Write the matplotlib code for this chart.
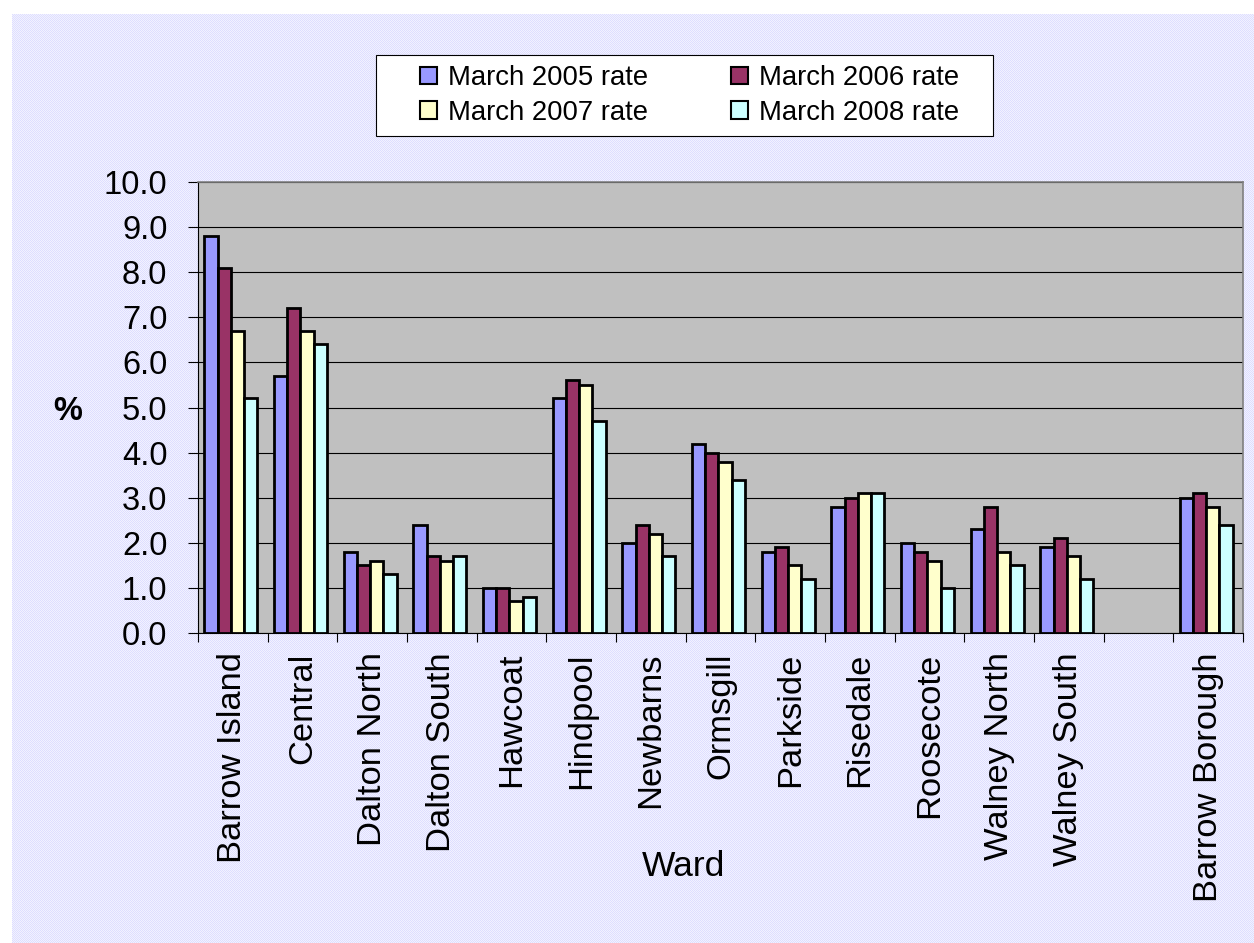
import numpy as np
import matplotlib
matplotlib.use("Agg")
import matplotlib.pyplot as plt
from matplotlib.patches import Patch, Rectangle

plt.rcParams["font.family"] = ["Liberation Sans", "DejaVu Sans"]

# Claimant rates by ward (%), March of each year
wards = ["Barrow Island", "Central", "Dalton North", "Dalton South", "Hawcoat",
         "Hindpool", "Newbarns", "Ormsgill", "Parkside", "Risedale",
         "Roosecote", "Walney North", "Walney South", "", "Barrow Borough"]
nan = np.nan
rate_2005 = [8.8, 5.7, 1.8, 2.4, 1.0, 5.2, 2.0, 4.2, 1.8, 2.8, 2.0, 2.3, 1.9, nan, 3.0]
rate_2006 = [8.1, 7.2, 1.5, 1.7, 1.0, 5.6, 2.4, 4.0, 1.9, 3.0, 1.8, 2.8, 2.1, nan, 3.1]
rate_2007 = [6.7, 6.7, 1.6, 1.6, 0.7, 5.5, 2.2, 3.8, 1.5, 3.1, 1.6, 1.8, 1.7, nan, 2.8]
rate_2008 = [5.2, 6.4, 1.3, 1.7, 0.8, 4.7, 1.7, 3.4, 1.2, 3.1, 1.0, 1.5, 1.2, nan, 2.4]
series_labels = ["March 2005 rate", "March 2006 rate", "March 2007 rate", "March 2008 rate"]
y_ticks = [0, 1, 2, 3, 4, 5, 6, 7, 8, 9, 10]

colors = ["#9999FF", "#993366", "#FFFFCC", "#CCFFFF"]

W, H = 1254, 943
fig = plt.figure(figsize=(W / 100, H / 100), dpi=100, facecolor="white")

# dotted lavender chart-area fill
bg = np.ones((H, W, 3))
yy, xx = np.mgrid[0:H, 0:W]
checker = ((xx + yy) % 2 == 0)
c1 = np.array([222, 222, 255]) / 255.0
c2 = np.array([242, 242, 255]) / 255.0
area = (xx >= 12) & (yy >= 14)
bg[area & checker] = c1
bg[area & ~checker] = c2
fig.figimage(bg, xo=0, yo=0, origin="upper", zorder=-10)

ax = fig.add_axes([198 / W, 1 - 633 / H, (1243 - 198) / W, (633 - 182) / H])
ax.set_facecolor("#C0C0C0")

x = np.arange(len(wards))
bw = 0.19
all_series = [rate_2005, rate_2006, rate_2007, rate_2008]
for k, (vals, col, lab) in enumerate(zip(all_series, colors, series_labels)):
    ax.bar(x + (k - 1.5) * bw - 0.03, vals, width=bw, color=col, edgecolor="black",
           linewidth=2.0, label=lab, zorder=3)

ax.set_xlim(-0.5, len(wards) - 0.5)
ax.set_ylim(0, 10)
ax.set_yticks(y_ticks)
ax.set_yticklabels([f"{v:.1f}" for v in y_ticks], fontsize=23.5)
ax.yaxis.grid(True, color="black", linewidth=0.8, zorder=1)
ax.set_axisbelow(True)
ax.tick_params(axis="y", direction="out", length=7, width=0.8, pad=15)

# category boundaries as major ticks, names on minor ticks at the centres
ax.set_xticks(np.arange(-0.5, len(wards), 1.0))
ax.set_xticklabels([])
ax.set_xticks(x, minor=True)
ax.set_xticklabels(wards, minor=True, rotation=90, fontsize=24.8, va="top")
ax.tick_params(axis="x", which="major", direction="out", length=6.5, width=0.8)
ax.tick_params(axis="x", which="minor", length=0, pad=14)

for side in ("left", "bottom"):
    ax.spines[side].set_color("black")
    ax.spines[side].set_linewidth(0.8)
for side in ("top", "right"):
    ax.spines[side].set_color("#808080")
    ax.spines[side].set_linewidth(1.2)

fig.text(684 / W, 1 - 867 / H, "Ward", fontsize=25.5, ha="center", va="center")
fig.text(68 / W, 1 - 412 / H, "%", fontsize=23.5, fontweight="bold",
         ha="center", va="center")

# legend box; entries ordered so they read across the rows
fig.patches.append(Rectangle((376 / W, 1 - 136 / H), (993 - 376) / W, (136 - 55) / H,
                             transform=fig.transFigure, facecolor="white",
                             edgecolor="black", linewidth=0.8, zorder=1))
handles = [Patch(facecolor=c, edgecolor="black", linewidth=1.5) for c in colors]
order = [0, 2, 1, 3]
fig.legend([handles[i] for i in order], [series_labels[i] for i in order],
           ncol=2, frameon=False, fontsize=19.8,
           loc="center", bbox_to_anchor=((376 + 993) / 2 / W + 5 / W, 1 - 95.5 / H),
           handlelength=0.6, handleheight=0.6, handletextpad=0.4,
           columnspacing=3.03, labelspacing=0.3)

fig.savefig("out.png", dpi=100, facecolor="white")
